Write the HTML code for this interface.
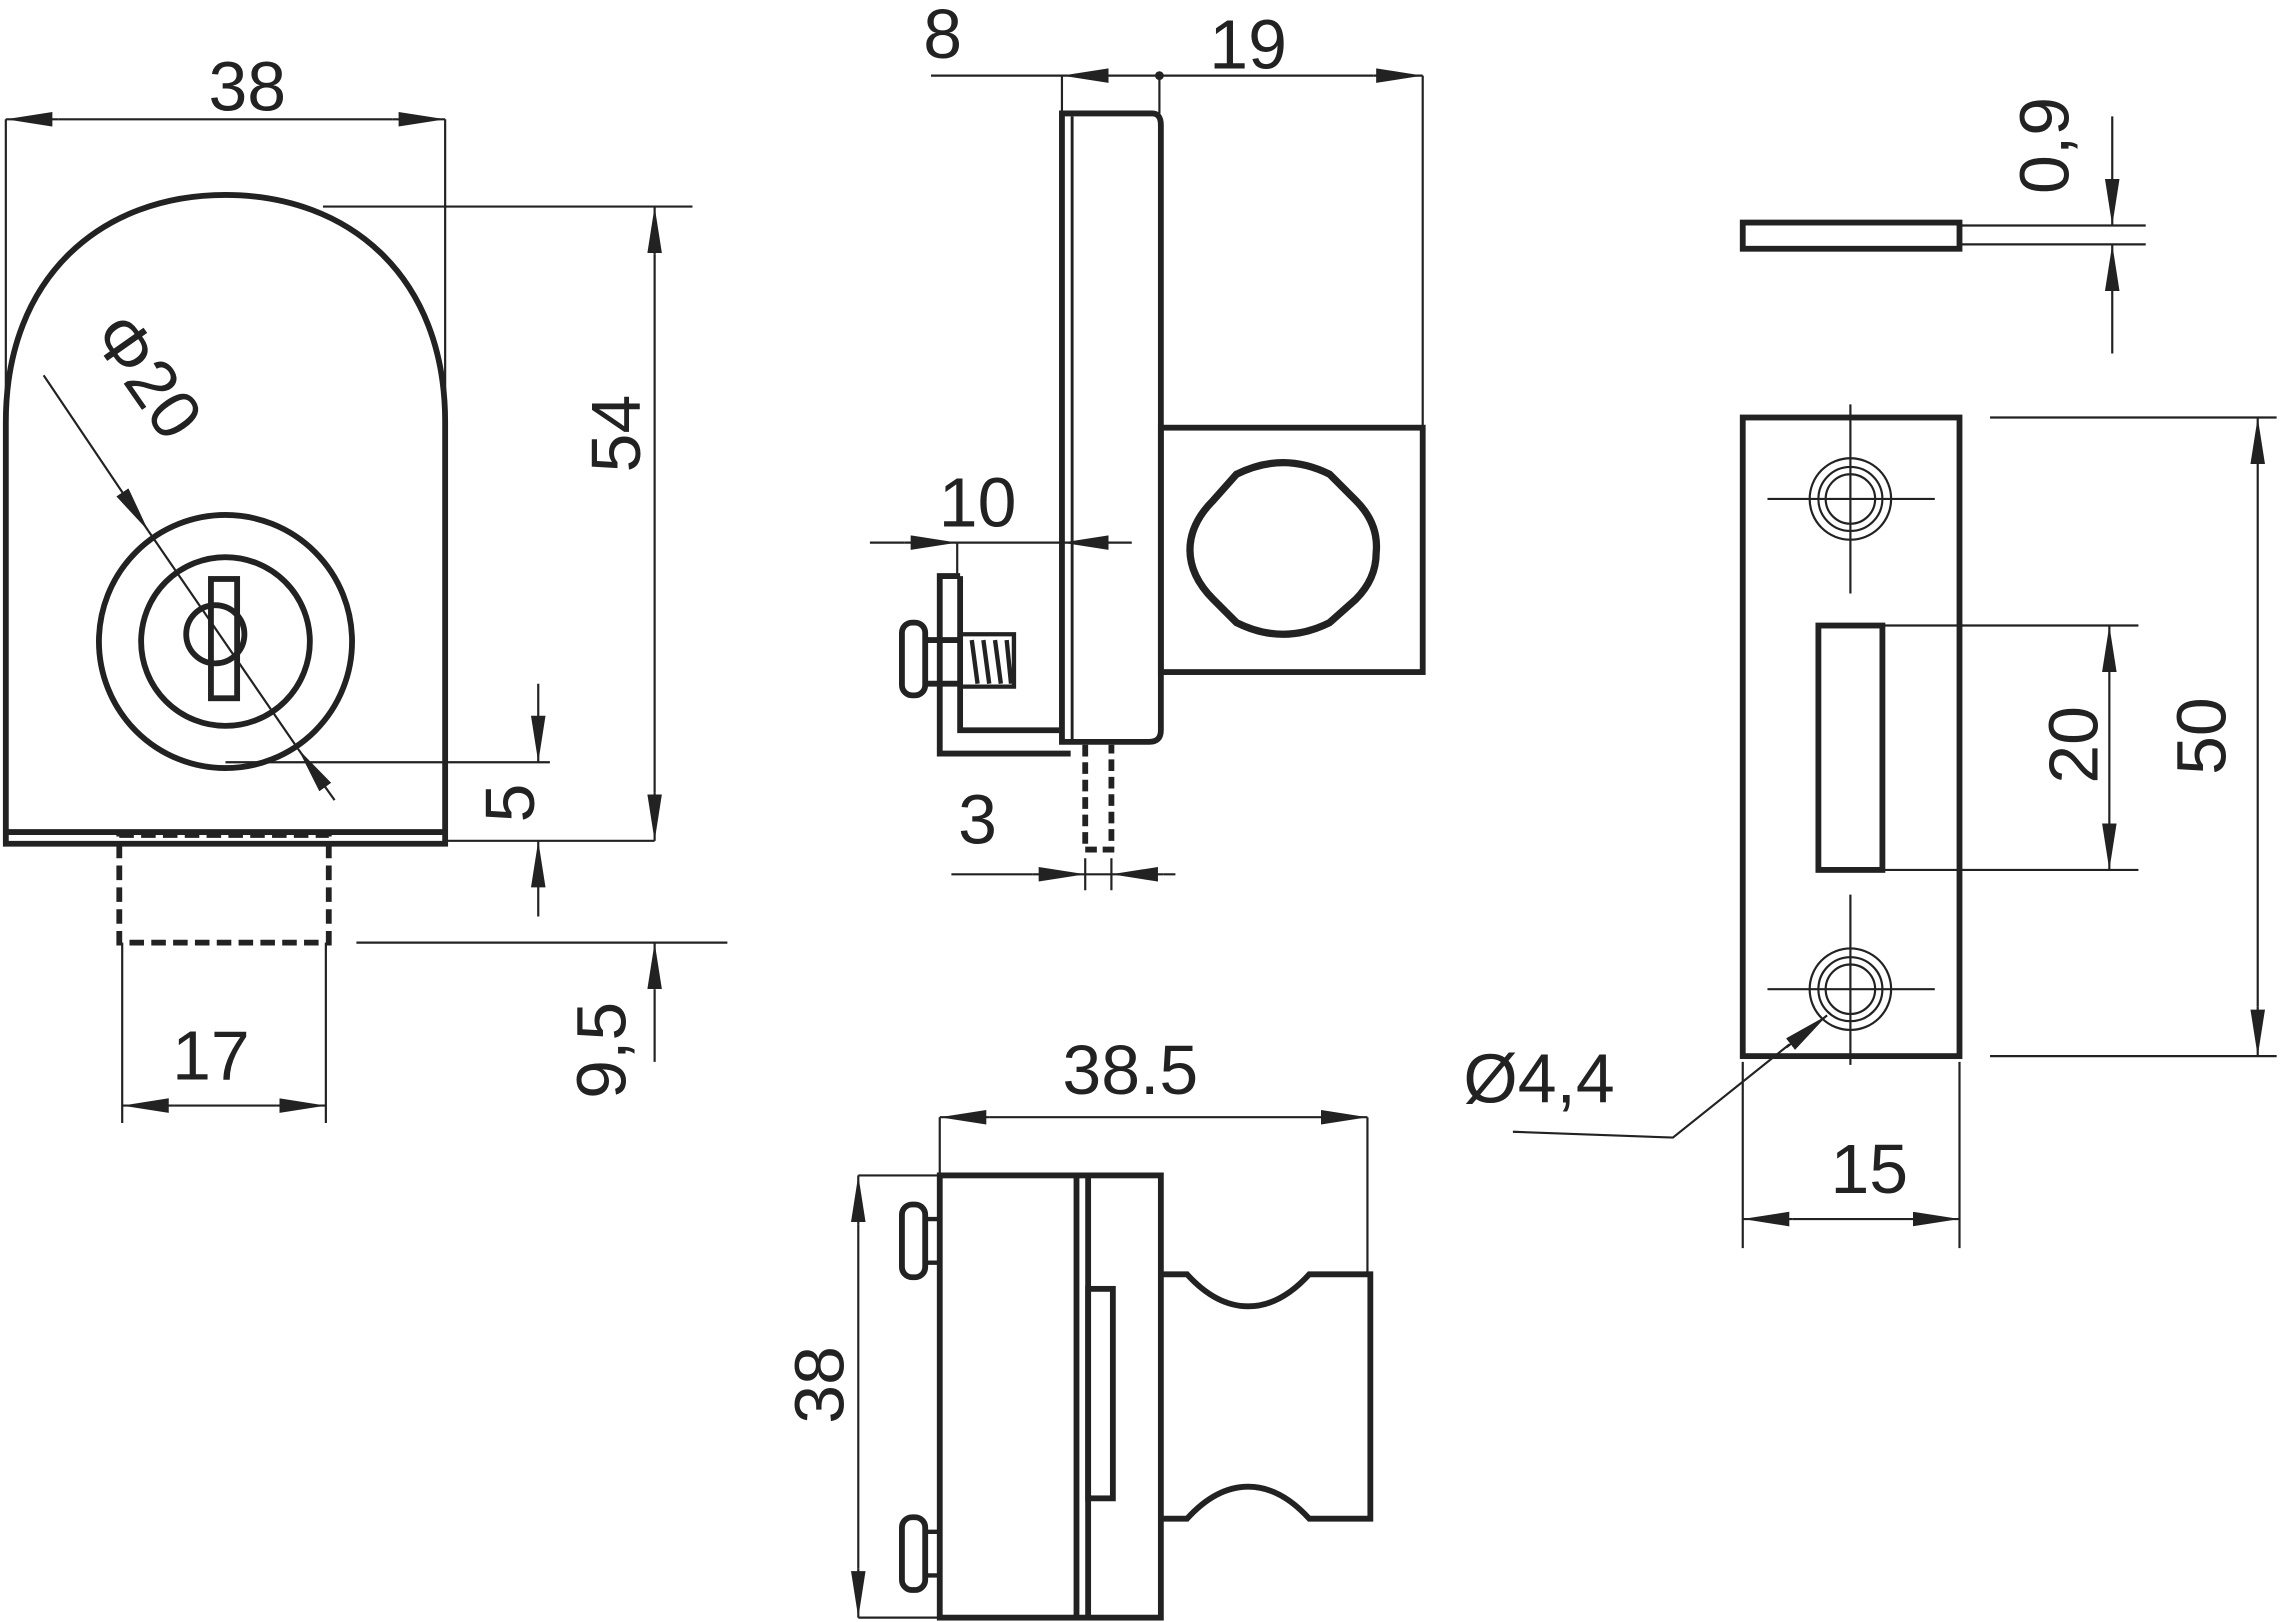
<!DOCTYPE html>
<html><head><meta charset="utf-8"><style>
html,body{margin:0;padding:0;background:#fff;width:2281px;height:1622px;overflow:hidden}
svg{display:block}
text{font-family:"Liberation Sans",sans-serif;font-size:48px;fill:#222}
</style></head><body>
<svg width="2281" height="1622" viewBox="0 0 1568 1115" xmlns="http://www.w3.org/2000/svg">
<defs>
<marker id="a" markerUnits="userSpaceOnUse" markerWidth="34" markerHeight="12" refX="32" refY="5" orient="auto">
<path d="M0,0 L32,5 L0,10 Z" fill="#222"/></marker>
</defs>
<g fill="none" stroke="#222" stroke-width="4">
<path d="M4,580 L4,290 C4,190 70,134 155,134 C240,134 306,190 306,290 L306,580 Z"/>
<line x1="4" y1="572" x2="306" y2="572"/>
<circle cx="155" cy="441" r="87"/>
<circle cx="155" cy="441" r="58"/>
<circle cx="148" cy="436" r="20"/>
<rect x="145" y="398" width="18" height="82"/>
<rect x="82" y="574" width="144" height="74" stroke-dasharray="10,5"/>
<path d="M730,78 L792,78 Q798,78 798,86 L798,502 Q798,510 790,510 L730,510 Z"/>
<line x1="737" y1="80" x2="737" y2="508" stroke-width="2"/>
<rect x="798" y="294" width="180" height="168"/>
<path d="M850,326 Q882,310 914,326 L932,344 Q948,360 946,380 Q946,398 932,412 L914,428 Q882,444 850,428 L834,412 Q818,396 818,378 Q818,360 834,344 Z" stroke-width="5"/>
<path d="M660,396 L660,502 L728,502 M660,396 L646,396 L646,518 L736,518"/>
<rect x="620" y="428" width="16" height="50" rx="7"/>
<line x1="636" y1="440" x2="660" y2="440"/><line x1="636" y1="470" x2="660" y2="470"/>
<path d="M662,436 L697,436 L697,472 L662,472 M668,440 L672,470 M676,440 L680,470 M684,440 L688,470 M692,440 L695,470" stroke-width="3"/>
<path d="M746,512 L746,584 L764,584 L764,512" stroke-dasharray="8,4"/>
<rect x="646" y="808" width="152" height="304"/>
<line x1="740" y1="808" x2="740" y2="1112"/><line x1="748" y1="808" x2="748" y2="1112"/>
<rect x="748" y="886" width="17" height="144"/>
<path d="M798,876 L816,876 Q836,898 858,898 Q880,898 900,876 L942,876 L942,1044 L900,1044 Q880,1022 858,1022 Q836,1022 816,1044 L798,1044"/>
<rect x="620" y="828" width="16" height="50" rx="7"/>
<rect x="620" y="1043" width="16" height="50" rx="7"/>
<path d="M636,838 L646,838 M636,868 L646,868 M636,1053 L646,1053 M636,1083 L646,1083" stroke-width="3"/>
<rect x="1198" y="153" width="149" height="18"/>
<rect x="1198" y="287" width="149" height="439"/>
<rect x="1250" y="430" width="44" height="168"/>
</g>
<g fill="none" stroke="#222" stroke-width="1.5">
<circle cx="1272" cy="343" r="28"/><circle cx="1272" cy="343" r="22"/><circle cx="1272" cy="343" r="17"/>
<circle cx="1272" cy="680" r="28"/><circle cx="1272" cy="680" r="22"/><circle cx="1272" cy="680" r="17"/>
<path d="M1272,278 V408 M1215,343 H1330 M1272,615 V732 M1215,680 H1330"/>
<path d="M4,82 V290 M306,82 V290 M222,142 H476 M306,578 H450 M155,524 H378 M245,648 H500 M84,648 V772 M224,648 V772"/>
<line x1="40" y1="82" x2="4" y2="82" marker-end="url(#a)"/><line x1="40" y1="82" x2="270" y2="82"/>
<line x1="270" y1="82" x2="306" y2="82" marker-end="url(#a)"/>
<line x1="450" y1="175" x2="450" y2="142" marker-end="url(#a)"/><line x1="450" y1="175" x2="450" y2="545"/>
<line x1="450" y1="545" x2="450" y2="578" marker-end="url(#a)"/>
<line x1="450" y1="680" x2="450" y2="648" marker-end="url(#a)"/><line x1="450" y1="680" x2="450" y2="730"/>
<line x1="370" y1="470" x2="370" y2="524" marker-end="url(#a)"/>
<line x1="370" y1="630" x2="370" y2="578" marker-end="url(#a)"/>
<line x1="120" y1="760" x2="84" y2="760" marker-end="url(#a)"/><line x1="120" y1="760" x2="190" y2="760"/>
<line x1="190" y1="760" x2="224" y2="760" marker-end="url(#a)"/>
<line x1="30" y1="258" x2="102" y2="365" marker-end="url(#a)"/><line x1="102" y1="365" x2="205" y2="515"/>
<line x1="230" y1="550" x2="205" y2="515" marker-end="url(#a)"/>
<path d="M730,52 V78 M797,52 V78 M978,52 V294 M640,52 H730 M658,373 V396 M598,373 H622 M746,590 V612 M764,590 V612 M654,601 H710 M800,601 H808 M646,768 V808 M940,768 V876 M590,808 H646 M590,1112 H646"/>
<line x1="762" y1="52" x2="730" y2="52" marker-end="url(#a)"/><line x1="762" y1="52" x2="944" y2="52"/>
<line x1="944" y1="52" x2="978" y2="52" marker-end="url(#a)"/>
<line x1="622" y1="373" x2="658" y2="373" marker-end="url(#a)"/><line x1="658" y1="373" x2="730" y2="373"/>
<line x1="778" y1="373" x2="730" y2="373" marker-end="url(#a)"/>
<line x1="710" y1="601" x2="746" y2="601" marker-end="url(#a)"/><line x1="746" y1="601" x2="764" y2="601"/>
<line x1="800" y1="601" x2="764" y2="601" marker-end="url(#a)"/>
<line x1="680" y1="768" x2="646" y2="768" marker-end="url(#a)"/><line x1="680" y1="768" x2="906" y2="768"/>
<line x1="906" y1="768" x2="940" y2="768" marker-end="url(#a)"/>
<line x1="590" y1="842" x2="590" y2="808" marker-end="url(#a)"/><line x1="590" y1="842" x2="590" y2="1078"/>
<line x1="590" y1="1078" x2="590" y2="1112" marker-end="url(#a)"/>
<path d="M1347,155 H1475 M1347,168 H1475 M1294,430 H1470 M1294,598 H1470 M1368,287 H1565 M1368,726 H1565 M1198,730 V858 M1347,730 V858"/>
<line x1="1452" y1="80" x2="1452" y2="155" marker-end="url(#a)"/>
<line x1="1452" y1="243" x2="1452" y2="168" marker-end="url(#a)"/>
<line x1="1450" y1="464" x2="1450" y2="430" marker-end="url(#a)"/><line x1="1450" y1="464" x2="1450" y2="564"/>
<line x1="1450" y1="564" x2="1450" y2="598" marker-end="url(#a)"/>
<line x1="1552" y1="320" x2="1552" y2="287" marker-end="url(#a)"/><line x1="1552" y1="320" x2="1552" y2="692"/>
<line x1="1552" y1="692" x2="1552" y2="726" marker-end="url(#a)"/>
<line x1="1232" y1="838" x2="1198" y2="838" marker-end="url(#a)"/><line x1="1232" y1="838" x2="1313" y2="838"/>
<line x1="1313" y1="838" x2="1347" y2="838" marker-end="url(#a)"/>
<path d="M1040,778 L1150,782 L1230,718"/>
<line x1="1228" y1="720" x2="1256" y2="698" marker-end="url(#a)"/>
</g>
<circle cx="797" cy="52" r="3" fill="#222"/>
<text x="170" y="76" text-anchor="middle">38</text>
<text transform="translate(440,298) rotate(-90)" text-anchor="middle">54</text>
<text transform="translate(367,552) rotate(-90)" text-anchor="middle">5</text>
<text transform="translate(430,722) rotate(-90)" text-anchor="middle">9,5</text>
<text x="145" y="742" text-anchor="middle">17</text>
<text transform="translate(88,268) rotate(55)" text-anchor="middle">Φ20</text>
<text x="648" y="40" text-anchor="middle">8</text>
<text x="858" y="47" text-anchor="middle">19</text>
<text x="672" y="362" text-anchor="middle">10</text>
<text x="672" y="580" text-anchor="middle">3</text>
<text x="777" y="752" text-anchor="middle">38.5</text>
<text transform="translate(580,952) rotate(-90)" text-anchor="middle">38</text>
<text transform="translate(1422,100) rotate(-90)" text-anchor="middle">0,9</text>
<text transform="translate(1442,512) rotate(-90)" text-anchor="middle">20</text>
<text transform="translate(1530,506) rotate(-90)" text-anchor="middle">50</text>
<text x="1285" y="820" text-anchor="middle">15</text>
<text x="1058" y="758" text-anchor="middle">Ø4,4</text>
</svg>
</body></html>
